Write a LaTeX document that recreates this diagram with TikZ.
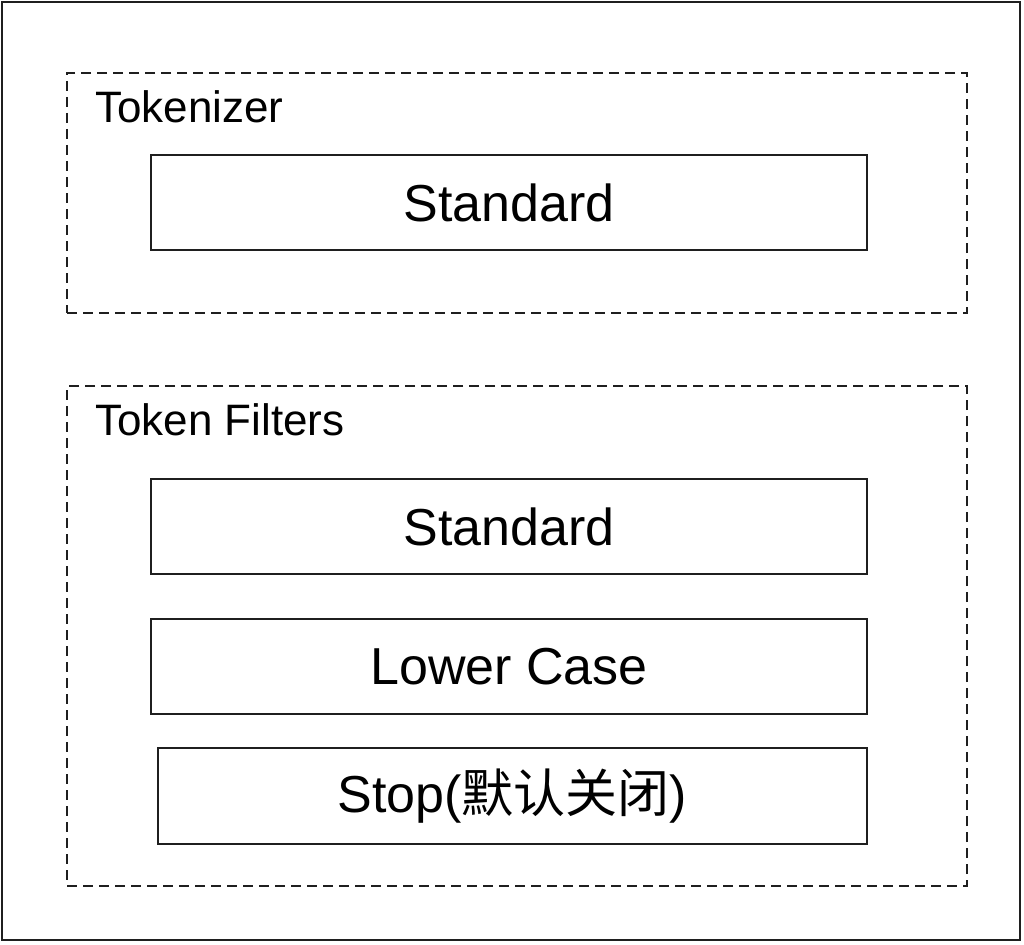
\documentclass[tikz,border=0pt]{standalone}
\usepackage{fontspec}
\setmainfont{Liberation Sans}
\newfontfamily\cjk{Noto Sans CJK SC}
\begin{document}
\begin{tikzpicture}[x=1pt,y=-1pt,
  box/.style={draw=black!88, line width=2.7pt, minimum width=716pt, minimum height=95pt, inner sep=0pt, font=\fontsize{52}{60}\selectfont},
  group/.style={draw=black!88, line width=2.8pt, dash pattern=on 10pt off 6pt, inner sep=0pt},
  grouplabel/.style={anchor=base west, inner sep=0pt, font=\fontsize{44}{52}\selectfont}]
\useasboundingbox (0,0) rectangle (1024,944);
\node[draw=black!88, line width=2.8pt, minimum width=1018pt, minimum height=938pt, inner sep=0pt] (frame) at (511,471) {};
\node[group, minimum width=900pt, minimum height=240pt] (tok) at (517,193) {};
\node[group, minimum width=900pt, minimum height=500pt] (filt) at (517,636) {};
\node[grouplabel] (toklabel) at (95,123) {Tokenizer};
\node[grouplabel] (filtlabel) at (95,435) {Token Filters};
\node[box] (std1) at (509,202.5) {Standard};
\node[box] (std2) at (509,526.5) {Standard};
\node[box] (lower) at (509,666.5) {Lower Case};
\node[box, minimum width=709pt, minimum height=96pt] (stop) at (512.5,796) {Stop({\cjk 默认关闭})};
\end{tikzpicture}
\end{document}
